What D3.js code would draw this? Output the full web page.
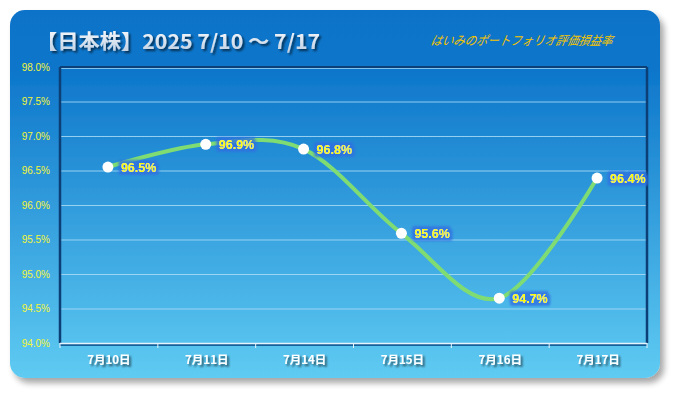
<!DOCTYPE html>
<html><head><meta charset="utf-8">
<script src="https://cdn.jsdelivr.net/npm/d3@7"></script>
<style>
html,body{margin:0;padding:0;background:#fff;}
svg{display:block;}
</style>
</head><body>
<svg id="chart" width="675" height="393"></svg>
<script>
const categories = ["7月10日","7月11日","7月14日","7月15日","7月16日","7月17日"];
const values = [96.55, 96.88, 96.81, 95.59, 94.65, 96.39];
const valueLabels = ["96.5%","96.9%","96.8%","95.6%","94.7%","96.4%"];
const yTicks = [94.0, 94.5, 95.0, 95.5, 96.0, 96.5, 97.0, 97.5, 98.0];
const titleText = "【日本株】2025 7/10 〜 7/17";
const subtitleText = "はいみのポートフォリオ評価損益率";

const svg = d3.select("#chart");
const defs = svg.append("defs");

const bg = defs.append("linearGradient").attr("id","bg").attr("x1",0).attr("y1",0).attr("x2",0).attr("y2",1);
bg.append("stop").attr("offset","0%").attr("stop-color","#0b73c9");
bg.append("stop").attr("offset","15%").attr("stop-color","#0c75ca");
bg.append("stop").attr("offset","100%").attr("stop-color","#5fcbf2");

const tg = defs.append("linearGradient").attr("id","tg").attr("x1",0).attr("y1",0).attr("x2",0).attr("y2",1);
tg.append("stop").attr("offset","0%").attr("stop-color","#ffffff");
tg.append("stop").attr("offset","100%").attr("stop-color","#b9cbe0");

const sh = defs.append("filter").attr("id","cardShadow").attr("x","-5%").attr("y","-5%").attr("width","115%").attr("height","120%");
sh.append("feGaussianBlur").attr("in","SourceAlpha").attr("stdDeviation",3);
sh.append("feOffset").attr("dx",4).attr("dy",5).attr("result","ob");
sh.append("feComponentTransfer").append("feFuncA").attr("type","linear").attr("slope",0.35);
const m1 = sh.append("feMerge"); m1.append("feMergeNode"); m1.append("feMergeNode").attr("in","SourceGraphic");

const ts = defs.append("filter").attr("id","textShadow").attr("x","-10%").attr("y","-30%").attr("width","120%").attr("height","160%");
ts.append("feGaussianBlur").attr("in","SourceAlpha").attr("stdDeviation",1);
ts.append("feOffset").attr("dx",1.5).attr("dy",1.5).attr("result","o");
ts.append("feComponentTransfer").append("feFuncA").attr("type","linear").attr("slope",0.6);
const m2 = ts.append("feMerge"); m2.append("feMergeNode"); m2.append("feMergeNode").attr("in","SourceGraphic");

const glow = defs.append("filter").attr("id","glow").attr("x","-20%").attr("y","-40%").attr("width","140%").attr("height","180%");
glow.append("feMorphology").attr("in","SourceAlpha").attr("operator","dilate").attr("radius",2.5).attr("result","d");
glow.append("feGaussianBlur").attr("in","d").attr("stdDeviation",1).attr("result","b");
glow.append("feFlood").attr("flood-color","#2f6fe0").attr("flood-opacity",0.8);
glow.append("feComposite").attr("in2","b").attr("operator","in");
const m3 = glow.append("feMerge"); m3.append("feMergeNode"); m3.append("feMergeNode").attr("in","SourceGraphic");

const fadeG = defs.append("linearGradient").attr("id","fade").attr("x1",0).attr("y1",0).attr("x2",0).attr("y2",1);
fadeG.append("stop").attr("offset","0%").attr("stop-color","#fff").attr("stop-opacity",0.7);
fadeG.append("stop").attr("offset","100%").attr("stop-color","#fff").attr("stop-opacity",0);
defs.append("mask").attr("id","fadeMask").attr("maskContentUnits","userSpaceOnUse")
  .append("rect").attr("x",400).attr("y",45).attr("width",240).attr("height",13).attr("fill","url(#fade)");

// card
svg.append("rect").attr("x",10).attr("y",10).attr("width",650).attr("height",368)
  .attr("rx",15).attr("fill","url(#bg)").attr("filter","url(#cardShadow)");

// title
svg.append("text").attr("x",36).attr("y",49).text(titleText)
  .attr("font-family","'Noto Sans CJK JP', sans-serif").attr("font-weight","bold")
  .attr("font-size",20).attr("fill","url(#tg)").attr("filter","url(#textShadow)")
  .attr("textLength",284).attr("lengthAdjust","spacingAndGlyphs");

// subtitle + reflection
svg.append("text").attr("x",430).attr("y",45).text(subtitleText)
  .attr("font-family","'Noto Sans CJK JP', sans-serif").attr("font-size",12.5)
  .attr("font-style","italic").attr("fill","#f5c400")
  .attr("transform","skewX(-12) translate(9.5,0)")
  .attr("textLength",182).attr("lengthAdjust","spacingAndGlyphs");
svg.append("g").attr("mask","url(#fadeMask)")
  .append("text").attr("x",430).attr("y",-45).text(subtitleText)
  .attr("font-family","'Noto Sans CJK JP', sans-serif").attr("font-size",12.5)
  .attr("fill","#f5c400")
  .attr("transform","translate(0,90) scale(1,-1) translate(0,-1)")
  .attr("textLength",182).attr("lengthAdjust","spacingAndGlyphs");

// plot
const L = 60, R = 647, T = 67, B = 343;
const x = d3.scaleBand().domain(categories).range([L, R]);
const y = d3.scaleLinear().domain([94, 98]).range([B, T]);

// grid
svg.append("g").selectAll("line").data(yTicks.filter(d => d > 94 && d < 98)).join("line")
  .attr("x1",L).attr("x2",R).attr("y1",d=>y(d)+0.5).attr("y2",d=>y(d)+0.5)
  .attr("stroke","#a9dcf7").attr("stroke-opacity",0.85).attr("stroke-width",1);

// frame
svg.append("line").attr("x1",L).attr("x2",R).attr("y1",T).attr("y2",T).attr("stroke","#0c3f75").attr("stroke-width",2);
svg.append("line").attr("x1",L+1).attr("x2",R-1).attr("y1",T+1.5).attr("y2",T+1.5).attr("stroke","#7fc4ee").attr("stroke-width",1);
svg.append("line").attr("x1",L).attr("x2",L).attr("y1",T).attr("y2",B).attr("stroke","#0c3f75").attr("stroke-width",2.5);
svg.append("line").attr("x1",R).attr("x2",R).attr("y1",T).attr("y2",B).attr("stroke","#0c3f75").attr("stroke-width",2.5);
svg.append("line").attr("x1",L).attr("x2",R).attr("y1",B+2).attr("y2",B+2).attr("stroke","#14609a").attr("stroke-width",2);

// y axis labels
const yAxis = d3.axisLeft(y).tickValues(yTicks).tickSize(0).tickPadding(10)
  .tickFormat(d => d.toFixed(1) + "%");
const ya = svg.append("g").attr("transform",`translate(${L},0)`).call(yAxis);
ya.select(".domain").remove();
ya.selectAll("text").attr("fill","#f2f53a").attr("font-size",10)
  .attr("font-family","'Liberation Sans', Arial, sans-serif");

// x axis
const xAxis = d3.axisBottom(x).tickSize(0).tickPadding(13);
const xa = svg.append("g").attr("transform",`translate(0,${B})`).call(xAxis);
xa.select(".domain").attr("stroke","#e8f4fb").attr("stroke-width",1.5).attr("d",`M${L},0.5H${R}`);
xa.selectAll("text").attr("fill","#ffffff").attr("font-size",11.5).attr("font-weight","bold")
  .attr("font-family","'Noto Sans CJK JP', sans-serif").attr("filter","url(#textShadow)");
const bounds = categories.map(c => x(c)).concat([R]);
svg.append("g").selectAll("line").data(bounds).join("line")
  .attr("x1",d=>d).attr("x2",d=>d).attr("y1",B).attr("y2",B+5)
  .attr("stroke","#e8f4fb").attr("stroke-width",1);

// line
const pts = categories.map((c,i) => [x(c) + x.bandwidth()/2 - 1, y(values[i])]);
const line = d3.line().curve(d3.curveCardinal.tension(0));
svg.append("path").attr("d", line(pts)).attr("fill","none")
  .attr("stroke","#7fdc72").attr("stroke-width",4).attr("stroke-linecap","round");

// markers
svg.append("g").selectAll("circle").data(pts).join("circle")
  .attr("cx",d=>d[0]).attr("cy",d=>d[1]).attr("r",5.5).attr("fill","#ffffff");

// value labels
svg.append("g").selectAll("text").data(pts).join("text")
  .attr("x",d=>d[0]+13).attr("y",d=>d[1]+5).text((d,i)=>valueLabels[i])
  .attr("fill","#ffff00").attr("font-weight","bold").attr("font-size",12.5)
  .attr("font-family","'Liberation Sans', Arial, sans-serif").attr("filter","url(#glow)");
</script>
</body></html>
